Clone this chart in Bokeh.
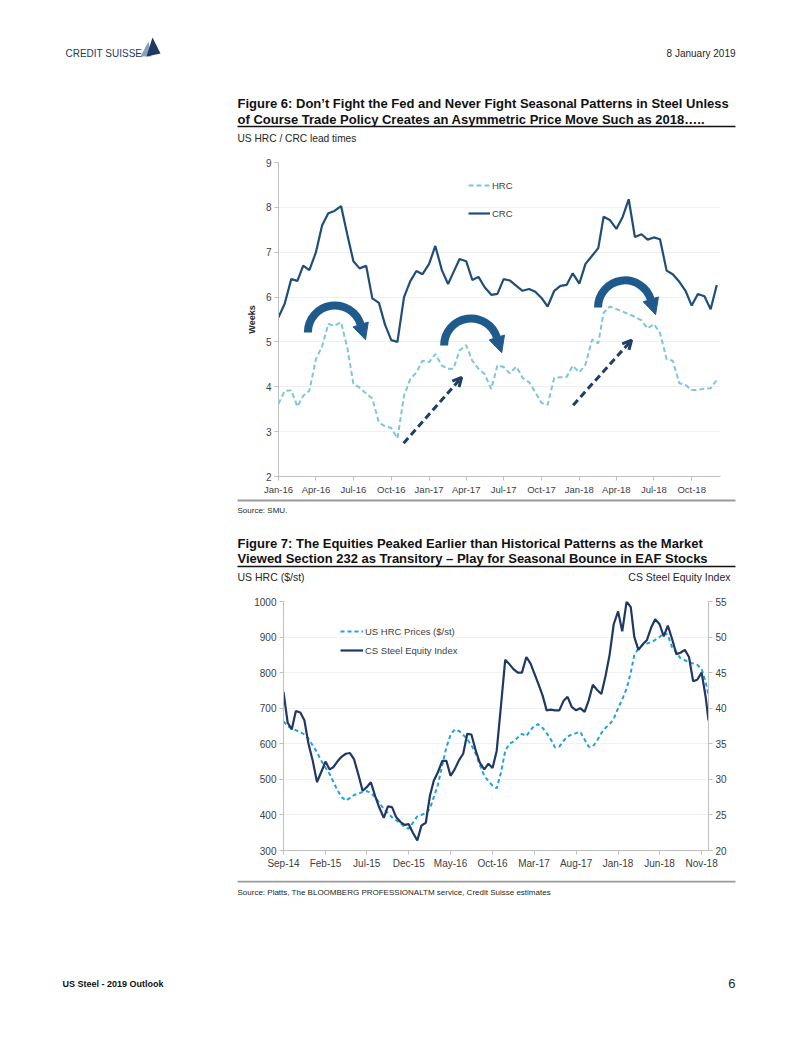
import numpy as np
import pandas as pd
from bokeh.plotting import figure
from bokeh.models import (Range1d, LinearAxis, FixedTicker, DatetimeTickFormatter, Legend,
                          LegendItem, Arrow, OpenHead, NormalHead, ColumnDataSource, Label)
from bokeh.layouts import column
from bokeh.embed import file_html
from bokeh.resources import INLINE

# ---------------- data: Figure 6 (semi-monthly lead times, weeks) ----------------
lead_months = pd.date_range("2016-01-01", "2018-11-01", freq="MS")
lead_dates = sorted(list(lead_months) + [d + pd.Timedelta(days=15) for d in lead_months]) + [pd.Timestamp("2018-12-01")]
crc_weeks = [5.55, 5.85, 6.40, 6.36, 6.70, 6.60, 7.00, 7.60, 7.87, 7.92,
             8.03, 7.40, 6.80, 6.64, 6.70, 5.97, 5.87, 5.38, 5.04, 5.00,
             6.00, 6.35, 6.58, 6.51, 6.74, 7.14, 6.60, 6.29, 6.55, 6.85,
             6.80, 6.38, 6.45, 6.22, 6.05, 6.07, 6.40, 6.37, 6.25, 6.14,
             6.18, 6.12, 5.98, 5.79, 6.14, 6.25, 6.27, 6.53, 6.30, 6.74,
             6.92, 7.09, 7.79, 7.72, 7.52, 7.78, 8.18, 7.34, 7.40, 7.28,
             7.33, 7.29, 6.59, 6.51, 6.34, 6.14, 5.81, 6.07, 6.02, 5.73,
             6.27]
hrc_weeks = [3.62, 3.91, 3.92, 3.56, 3.80, 3.91, 4.62, 4.90, 5.40, 5.36,
             5.44, 4.88, 4.07, 3.98, 3.85, 3.74, 3.20, 3.12, 3.08, 2.85,
             3.80, 4.17, 4.32, 4.58, 4.55, 4.73, 4.47, 4.40, 4.40, 4.81,
             4.93, 4.58, 4.40, 4.28, 3.95, 4.48, 4.44, 4.30, 4.45, 4.20,
             4.10, 3.88, 3.64, 3.60, 4.20, 4.21, 4.22, 4.47, 4.32, 4.50,
             5.05, 4.97, 5.65, 5.79, 5.73, 5.68, 5.62, 5.56, 5.48, 5.30,
             5.40, 5.20, 4.62, 4.58, 4.08, 4.04, 3.93, 3.93, 3.96, 3.97,
             4.15]
fig6_ticks = ["Jan-16", "Apr-16", "Jul-16", "Oct-16", "Jan-17", "Apr-17", "Jul-17",
              "Oct-17", "Jan-18", "Apr-18", "Jul-18", "Oct-18"]
# seasonal arc arrows (centre date, weeks) and dashed trend arrows (start/end)
arc_dates = ["2016-05-17", "2017-04-13", "2018-04-22"]
arc_weeks = [5.21, 4.92, 5.77]
trend_start_dates = ["2016-10-31", "2017-12-17"]
trend_start_weeks = [2.74, 3.59]
trend_end_dates = ["2017-03-21", "2018-05-08"]
trend_end_weeks = [4.21, 5.04]

# ---------------- data: Figure 7 (semi-monthly) ----------------
px_months = pd.date_range("2014-09-01", "2018-11-01", freq="MS")
px_dates = sorted(list(px_months) + [d + pd.Timedelta(days=15) for d in px_months]) + [pd.Timestamp("2018-11-26")]
hrc_price = [663, 650, 643, 638, 633, 626, 614, 596, 576, 553,
             533, 515, 494, 470, 450, 440, 448, 456, 460, 465,
             467, 462, 450, 433, 417, 405, 393, 385, 376, 366,
             361, 378, 396, 400, 405, 418, 450, 485, 540, 590,
             625, 640, 636, 625, 613, 596, 572, 540, 510, 495,
             482, 475, 520, 580, 600, 606, 618, 628, 622, 638,
             650, 655, 645, 630, 612, 590, 592, 608, 620, 626,
             630, 634, 612, 592, 592, 608, 630, 645, 655, 670,
             700, 725, 755, 800, 850, 868, 878, 882, 885, 892,
             900, 912, 906, 872, 858, 840, 835, 828, 826, 822,
             810, 772, 736]
equity_index = [42.3, 38.0, 37.0, 39.6, 39.4, 38.3, 35.0, 32.7, 29.6, 31.0,
                32.5, 31.4, 31.7, 32.5, 33.2, 33.6, 33.7, 32.8, 30.6, 28.4,
                28.9, 29.6, 27.6, 26.0, 24.6, 26.2, 26.1, 24.7, 24.0, 23.6,
                23.7, 22.5, 21.4, 23.5, 23.9, 27.7, 29.8, 31.0, 32.6, 32.6,
                30.5, 31.4, 32.7, 33.6, 36.4, 36.3, 34.0, 32.3, 31.4, 32.2,
                31.6, 34.0, 40.5, 46.8, 46.2, 45.5, 45.0, 45.0, 47.2, 46.3,
                45.0, 43.5, 41.8, 39.7, 39.8, 39.7, 39.7, 41.0, 41.6, 40.2,
                39.7, 40.0, 39.5, 41.1, 43.3, 42.6, 42.0, 44.5, 47.5, 51.8,
                53.6, 50.8, 55.0, 54.2, 50.0, 48.2, 49.0, 49.6, 51.3, 52.5,
                51.8, 50.1, 51.6, 49.8, 47.6, 47.8, 48.2, 47.2, 43.8, 44.0,
                45.0, 41.5, 38.3]
fig7_ticks = ["Sep-14", "Feb-15", "Jul-15", "Dec-15", "May-16", "Oct-16", "Mar-17",
              "Aug-17", "Jan-18", "Jun-18", "Nov-18"]
hrc_axis_ticks = [300, 400, 500, 600, 700, 800, 900, 1000]
eq_axis_ticks = [20, 25, 30, 35, 40, 45, 50, 55]

# ---------------- styling ----------------
FONT = "Liberation Sans"
W = 802
NAVY = "#1f4e79"
TXT = "#262626"
AX = "#bfbfbf"
TITLE_SIZE = 13


def ms(d):
    return pd.Timestamp(d).value / 1e6


def tick_ms(labels):
    return [ms(pd.to_datetime(s, format="%b-%y")) for s in labels]


def text_fig(height, y0):
    f = figure(width=W, height=height, x_range=Range1d(0, W), y_range=Range1d(y0 + height, y0),
               output_backend="svg", toolbar_location=None, min_border=0,
               x_axis_location=None, y_axis_location=None, frame_align=False)
    f.grid.visible = False
    f.outline_line_color = None
    return f


def lab(f, x, y, s, size=10, bold=False, color=TXT, align="left"):
    f.add_layout(Label(x=x, y=y, text=s, text_font=FONT, text_font_size=f"{size}px",
                       text_font_style="bold" if bold else "normal", text_color=color,
                       text_align=align, text_baseline="middle"))


def rule(f, x0, x1, y, color="#000000", width=1.5):
    f.segment(x0=[x0], y0=[y], x1=[x1], y1=[y], line_color=color, line_width=width)


fmt = DatetimeTickFormatter(days="%b-%y", months="%b-%y", years="%b-%y")


def style_axis(ax, size="9.5px"):
    ax.axis_line_color = AX
    ax.major_tick_line_color = AX
    ax.minor_tick_line_color = None
    ax.major_tick_out = 4
    ax.major_tick_in = 0
    ax.major_label_text_font = FONT
    ax.major_label_text_font_size = size
    ax.major_label_text_color = "#404040"
    ax.major_label_standoff = 3


# ---------------- header ----------------
head = text_fig(150, 0)
head.patch(x=[140, 148, 151], y=[56, 41, 56], fill_color="#8aa0b8", line_color=None)
head.patch(x=[146, 152, 160], y=[56, 37, 53], fill_color="#1f3864", line_color=None)
lab(head, 65, 53, "CREDIT SUISSE", size=10, color="#1f3864")
lab(head, 735, 53, "8 January 2019", size=10, align="right")
lab(head, 237, 103, "Figure 6: Don\u2019t Fight the Fed and Never Fight Seasonal Patterns in Steel Unless", size=TITLE_SIZE, bold=True, color="#111111")
lab(head, 237, 119, "of Course Trade Policy Creates an Asymmetric Price Move Such as 2018\u2026..", size=TITLE_SIZE, bold=True, color="#111111")
rule(head, 237, 735, 126, "#111111", 1.5)
lab(head, 237, 138, "US HRC / CRC lead times", size=10.2)

# ---------------- Figure 6 chart ----------------
x0 = pd.Timestamp("2016-01-01")
x1 = pd.Timestamp("2018-12-10")
B1L, B1R, B1T, B1B = 278, 82, 12, 21
H1 = 347
p1 = figure(width=W, height=H1, x_axis_type="datetime", x_range=Range1d(x0, x1), y_range=Range1d(2, 9),
            output_backend="svg", toolbar_location=None, min_border_left=B1L, min_border_right=B1R,
            min_border_top=B1T, min_border_bottom=B1B, frame_align=False)
p1.outline_line_color = None
p1.xgrid.visible = False
p1.ygrid.grid_line_color = "#efefef"
p1.yaxis.ticker = FixedTicker(ticks=[2, 3, 4, 5, 6, 7, 8, 9])
p1.xaxis.ticker = FixedTicker(ticks=tick_ms(fig6_ticks))
p1.xaxis.formatter = fmt
style_axis(p1.xaxis[0], "9.5px")
style_axis(p1.yaxis[0], "10px")
p1.yaxis.axis_label = "Weeks"
p1.yaxis.axis_label_text_font = FONT
p1.yaxis.axis_label_text_font_size = "9px"
p1.yaxis.axis_label_text_font_style = "bold"
p1.yaxis.axis_label_text_color = TXT
p1.yaxis.axis_label_standoff = 6

src1 = ColumnDataSource(dict(date=lead_dates, crc=crc_weeks, hrc=hrc_weeks))
r_hrc = p1.line("date", "hrc", source=src1, line_color="#7cc6de", line_width=2, line_dash="5 3")
r_crc = p1.line("date", "crc", source=src1, line_color=NAVY, line_width=2.2)

frame_w = W - B1L - B1R
frame_h = H1 - B1T - B1B
leg1 = Legend(items=[LegendItem(label="HRC", renderers=[r_hrc]), LegendItem(label="CRC", renderers=[r_crc])],
              location=(190, frame_h - 17 - 40), border_line_color=None, background_fill_alpha=0,
              padding=0, margin=0, spacing=16, glyph_width=22, glyph_height=12, label_standoff=2,
              label_height=12, label_text_font=FONT, label_text_font_size="9.5px",
              label_text_color="#404040")
p1.add_layout(leg1)

# seasonal arcs with heads
ppd = frame_w / ((x1 - x0) / pd.Timedelta(days=1))
ppu = frame_h / 7.0
DAY = 86400000.0
R = 27
TH = 0.3
ARC = "#1f5a8c"
p1.arc(x=[pd.Timestamp(d) for d in arc_dates], y=arc_weeks, radius=R, radius_units="screen",
       start_angle=TH, end_angle=np.pi, line_width=8, line_color=ARC)
for d, w in zip(arc_dates, arc_weeks):
    cx = ms(d)
    bx = cx + R * np.cos(TH) / ppd * DAY
    by = w + R * np.sin(TH) / ppu
    tx = bx + 0.3 * 16 / ppd * DAY
    ty = by - 0.95 * 16 / ppu
    p1.add_layout(Arrow(x_start=bx, y_start=by, x_end=tx, y_end=ty, line_alpha=0,
                        end=NormalHead(size=16, fill_color=ARC, line_color=ARC)))

for sd, sw, ed, ew in zip(trend_start_dates, trend_start_weeks, trend_end_dates, trend_end_weeks):
    p1.add_layout(Arrow(x_start=ms(sd), y_start=sw, x_end=ms(ed), y_end=ew, line_color="#1f3f66",
                        line_width=3, line_dash="7 4",
                        end=OpenHead(size=9, line_color="#1f3f66", line_width=3)))

# ---------------- middle text ----------------
mid = text_fig(93, 497)
rule(mid, 237, 735, 500, "#9a9a9a", 2)
lab(mid, 237, 510, "Source: SMU.", size=8)
lab(mid, 237, 543, "Figure 7:  The Equities Peaked Earlier than Historical Patterns as the Market", size=TITLE_SIZE, bold=True, color="#111111")
lab(mid, 237, 558, "Viewed Section 232 as Transitory \u2013 Play for Seasonal Bounce in EAF Stocks", size=TITLE_SIZE, bold=True, color="#111111")
rule(mid, 237, 735, 566, "#111111", 1.5)
lab(mid, 237, 576, "US HRC ($/st)", size=10.5)
lab(mid, 730, 576, "CS Steel Equity Index", size=10.5, align="right")

# ---------------- Figure 7 chart ----------------
B2L, B2R, B2T, B2B = 283, 94, 11, 30
H2 = 290
p2 = figure(width=W, height=H2, x_axis_type="datetime",
            x_range=Range1d(pd.Timestamp("2014-09-01"), pd.Timestamp("2018-11-26")),
            y_range=Range1d(300, 1000), output_backend="svg", toolbar_location=None,
            min_border_left=B2L, min_border_right=B2R, min_border_top=B2T, min_border_bottom=B2B,
            frame_align=False)
p2.outline_line_color = None
p2.xgrid.visible = False
p2.ygrid.grid_line_color = "#f2f2f2"
p2.extra_y_ranges = {"eq": Range1d(20, 55)}
p2.yaxis.ticker = FixedTicker(ticks=hrc_axis_ticks)
p2.xaxis.ticker = FixedTicker(ticks=tick_ms(fig7_ticks))
p2.xaxis.formatter = fmt
style_axis(p2.xaxis[0], "10px")
style_axis(p2.yaxis[0], "10px")
ax_r = LinearAxis(y_range_name="eq", ticker=FixedTicker(ticks=eq_axis_ticks))
style_axis(ax_r, "10px")
p2.add_layout(ax_r, "right")

src2 = ColumnDataSource(dict(date=px_dates, hrc=hrc_price, eq=equity_index))
r2_hrc = p2.line("date", "hrc", source=src2, line_color="#22a2dc", line_width=2, line_dash="4 3")
r2_eq = p2.line("date", "eq", source=src2, y_range_name="eq", line_color="#1f3864", line_width=2.2)
frame_h2 = H2 - B2T - B2B
leg2 = Legend(items=[LegendItem(label="US HRC Prices ($/st)", renderers=[r2_hrc]),
                     LegendItem(label="CS Steel Equity Index", renderers=[r2_eq])],
              location=(57, frame_h2 - 24 - 31), border_line_color=None, background_fill_alpha=0,
              padding=0, margin=0, spacing=7, glyph_width=23, glyph_height=12, label_standoff=2,
              label_height=12, label_text_font=FONT, label_text_font_size="9.5px",
              label_text_color="#404040")
p2.add_layout(leg2)

# ---------------- footer ----------------
foot = text_fig(157, 880)
rule(foot, 237, 735, 881, "#9a9a9a", 2)
lab(foot, 237, 892, "Source: Platts, The BLOOMBERG PROFESSIONALTM service, Credit Suisse estimates", size=8)
lab(foot, 62, 983, "US Steel - 2019 Outlook", size=9, bold=True, color="#111111")
lab(foot, 735, 983, "6", size=13, align="right")

page = column(head, p1, mid, p2, foot, spacing=0)
open("out.html", "w").write(file_html(page, INLINE))
